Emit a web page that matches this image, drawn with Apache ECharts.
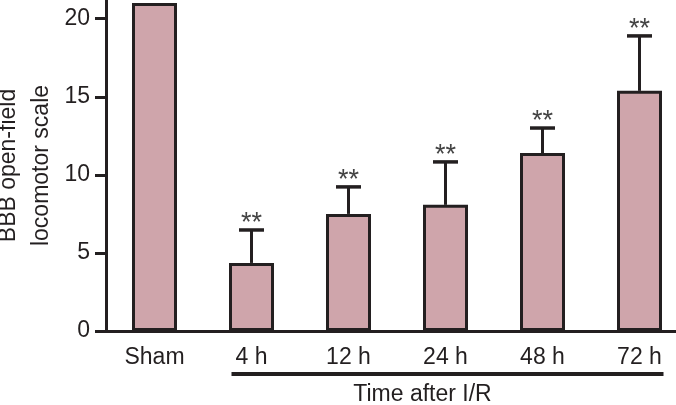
<!DOCTYPE html>
<html>
<head>
<meta charset="utf-8">
<script src="https://cdn.jsdelivr.net/npm/echarts@6/dist/echarts.min.js"></script>
<style>
  html, body { margin: 0; padding: 0; background: #fff; }
  #chart { width: 676px; height: 405px; }
</style>
</head>
<body>
<div id="chart"></div>
<script>
const categories = ['Sham', '4 h', '12 h', '24 h', '48 h', '72 h'];
const means = [21.0, 4.36, 7.5, 8.08, 11.4, 15.38];
const errorTops = [null, 6.47, 9.23, 10.83, 13.0, 18.9];
const marks = ['', '**', '**', '**', '**', '**'];
const yTicks = [0, 5, 10, 15, 20];

const ink = '#231f20';
const font = '"Liberation Sans", Arial, sans-serif';

const errData = [];
categories.forEach((c, i) => {
  if (errorTops[i] != null) errData.push([i, errorTops[i], means[i]]);
});

const chart = echarts.init(document.getElementById('chart'));

chart.setOption({
  animation: false,
  grid: { left: 106, top: 0, width: 582, height: 331, outerBoundsMode: 'none', containLabel: false },
  xAxis: {
    type: 'category',
    data: categories,
    axisLine: { lineStyle: { color: ink, width: 3 } },
    axisTick: { show: false },
    axisLabel: { color: ink, fontSize: 23, fontFamily: font, margin: 15 },
  },
  yAxis: {
    type: 'value',
    min: 0,
    max: 21.2,
    name: 'BBB open-field\nlocomotor scale',
    nameLocation: 'middle',
    nameRotate: 90,
    nameGap: 48,
    nameMoveOverlap: false,
    nameTextStyle: { color: ink, fontSize: 23, fontFamily: font, lineHeight: 33 },
    axisLine: { show: true, lineStyle: { color: ink, width: 3 } },
    axisTick: { show: true, length: 11, lineStyle: { color: ink, width: 3 }, customValues: yTicks },
    axisLabel: { color: ink, fontSize: 23, fontFamily: font, margin: 16, customValues: yTicks },
    splitLine: { show: false },
  },
  series: [
    {
      type: 'bar',
      data: means,
      barWidth: 45,
      itemStyle: { color: '#cfa5ab', borderColor: ink, borderWidth: 3 },
    },
    {
      type: 'custom',
      data: errData,
      z: 3,
      renderItem: (params, api) => {
        const i = api.value(0);
        const top = api.coord([i, api.value(1)]);
        const base = api.coord([i, api.value(2)]);
        return {
          type: 'group',
          children: [
            { type: 'line', shape: { x1: top[0], y1: base[1], x2: top[0], y2: top[1] },
              style: { stroke: ink, lineWidth: 3 } },
            { type: 'line', shape: { x1: top[0] - 12.5, y1: top[1], x2: top[0] + 12.5, y2: top[1] },
              style: { stroke: ink, lineWidth: 3.5 } },
            { type: 'text', x: top[0], y: top[1] - 6,
              style: { text: marks[i], fill: '#444', font: '27px ' + font,
                       textAlign: 'center', textVerticalAlign: 'middle' } },
          ],
        };
      },
    },
  ],
});

// bracket under the time points and its caption
const x4 = chart.convertToPixel({ xAxisIndex: 0 }, 1);
const x72 = chart.convertToPixel({ xAxisIndex: 0 }, 5);
const y0 = chart.convertToPixel({ yAxisIndex: 0 }, 0);
chart.setOption({
  graphic: [
    { type: 'line', shape: { x1: x4 - 20, y1: y0 + 43, x2: x72 + 24, y2: y0 + 43 },
      style: { stroke: ink, lineWidth: 4 } },
    { type: 'text', x: (x4 + x72) / 2 - 23, y: y0 + 64,
      style: { text: 'Time after I/R', fill: ink, font: '23px ' + font,
               textAlign: 'center', textVerticalAlign: 'middle' } },
  ],
});
</script>
</body>
</html>
